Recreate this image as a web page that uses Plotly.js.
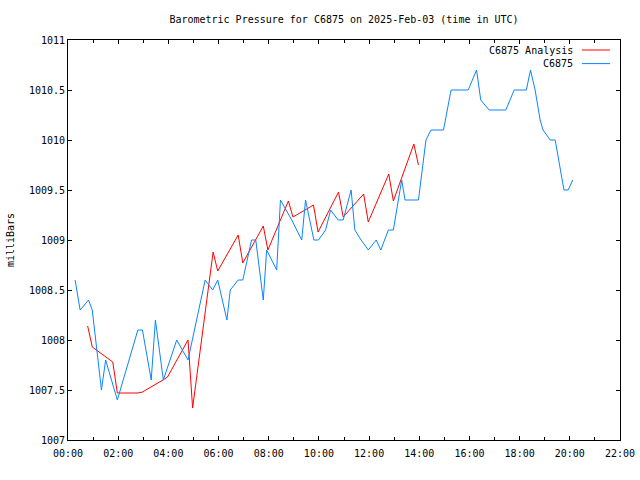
<!DOCTYPE html>
<html>
<head>
<meta charset="utf-8">
<script src="https://cdn.plot.ly/plotly-3.0.1.min.js"></script>
<style>
html,body{margin:0;padding:0;background:#fff;}
#chart{width:640px;height:480px;}
</style>
</head>
<body>
<div id="chart"></div>
<script>
const day = "2025-02-03";

const obsTimes = ["00:17","00:29","00:49","00:58","01:20","01:30","01:58","02:47","02:58","03:19",
  "03:29","03:48","04:20","04:47","05:28","05:46","05:58","06:20","06:28","06:47",
  "06:58","07:19","07:29","07:47","07:55","08:19","08:28","08:55","09:19","09:28",
  "09:48","09:59","10:16","10:28","10:46","10:58","11:17","11:26","11:41","11:58",
  "12:17","12:28","12:46","12:58","13:18","13:26","13:58","14:16","14:28","14:58",
  "15:16","15:57","16:17","16:27","16:47","17:27","17:47","18:16","18:26","18:37",
  "18:49","18:56","19:13","19:25","19:46","19:56","20:07"];
const obsPressure = [1008.6,1008.3,1008.4,1008.3,1007.5,1007.8,1007.4,1008.1,1008.1,1007.6,
  1008.2,1007.6,1008.0,1007.8,1008.6,1008.5,1008.6,1008.2,1008.5,1008.6,
  1008.6,1009.0,1009.0,1008.4,1008.9,1008.7,1009.4,1009.2,1009.0,1009.4,
  1009.0,1009.0,1009.1,1009.3,1009.2,1009.2,1009.5,1009.1,1009.0,1008.9,
  1009.0,1008.9,1009.1,1009.1,1009.6,1009.4,1009.4,1010.0,1010.1,1010.1,
  1010.5,1010.5,1010.7,1010.4,1010.3,1010.3,1010.5,1010.5,1010.7,1010.5,
  1010.2,1010.1,1010.0,1010.0,1009.5,1009.5,1009.6];

const anaTimes = ["00:47","00:58","01:47","01:58","02:47","02:58","03:47","03:58","04:47","04:58",
  "05:47","05:58","06:47","06:58","07:47","07:58","08:47","08:58","09:47","09:58",
  "10:47","10:58","11:47","11:58","12:47","12:58","13:47","13:58"];
const anaPressure = [1008.14,1007.93,1007.78,1007.47,1007.47,1007.48,1007.60,1007.63,1008.00,1007.32,
  1008.88,1008.69,1009.05,1008.77,1009.14,1008.90,1009.39,1009.23,1009.35,1009.08,
  1009.48,1009.23,1009.46,1009.18,1009.66,1009.39,1009.96,1009.75];

const seriesNames = ["C6875 Analysis", "C6875"];
const seriesColors = ["#ff0000", "#0a84ff"];
const xTickLabels = ["00:00","02:00","04:00","06:00","08:00","10:00","12:00","14:00","16:00","18:00","20:00","22:00"];
const yTickValues = [1007, 1007.5, 1008, 1008.5, 1009, 1009.5, 1010, 1010.5, 1011];
const yTickLabels = ["1007","1007.5","1008","1008.5","1009","1009.5","1010","1010.5","1011"];

const toDate = t => day + " " + t;

const font = {family: "DejaVu Sans Mono, monospace", size: 10, color: "#000"};

const traces = [
  {x: anaTimes.map(toDate), y: anaPressure, type: "scatter", mode: "lines",
   name: seriesNames[0], line: {color: seriesColors[0], width: 1}, showlegend: false},
  {x: obsTimes.map(toDate), y: obsPressure, type: "scatter", mode: "lines",
   name: seriesNames[1], line: {color: seriesColors[1], width: 1}, showlegend: false}
];

// gnuplot-style legend: text then line sample, right-aligned
const annotations = [];
const shapes = [];
seriesNames.forEach((n, i) => {
  const yy = 0.975 - i * 0.034;
  annotations.push({xref: "paper", yref: "paper", x: 0.9185, y: yy, xanchor: "right", yanchor: "middle",
    text: n, showarrow: false, font: font});
  shapes.push({type: "line", xref: "paper", yref: "paper", x0: 0.931, x1: 0.982, y0: yy, y1: yy,
    line: {color: seriesColors[i], width: 1}});
});

const layout = {
  width: 640, height: 480,
  margin: {l: 68, r: 20, t: 40, b: 40, pad: 0},
  paper_bgcolor: "#fff", plot_bgcolor: "#fff",
  font: font,
  separators: ".",
  title: {text: "Barometric Pressure for C6875 on 2025-Feb-03 (time in UTC)", font: font,
          x: 0.5375, xanchor: "center", y: 0.96, yanchor: "middle"},
  showlegend: false,
  xaxis: {
    type: "date", range: [toDate("00:00"), toDate("22:00")],
    tickmode: "array",
    tickvals: xTickLabels.map(toDate), ticktext: xTickLabels,
    ticks: "inside", ticklen: 4, tickwidth: 1, tickcolor: "#000",
    minor: {dtick: 3600000, ticks: "inside", ticklen: 3, tickcolor: "#000", showgrid: false},
    showgrid: false, zeroline: false,
    showline: true, linecolor: "#000", linewidth: 1, mirror: "ticks",
    tickfont: font, ticklabelstandoff: 4
  },
  yaxis: {
    range: [1007, 1011],
    tickmode: "array", tickvals: yTickValues, ticktext: yTickLabels,
    ticks: "inside", ticklen: 4, tickwidth: 1, tickcolor: "#000",
    showgrid: false, zeroline: false,
    showline: true, linecolor: "#000", linewidth: 1, mirror: "ticks",
    tickfont: font,
    title: {text: "milliBars", font: font, standoff: 12}
  },
  annotations: annotations,
  shapes: shapes
};

Plotly.newPlot("chart", traces, layout, {staticPlot: true, displayModeBar: false});
</script>
</body>
</html>
